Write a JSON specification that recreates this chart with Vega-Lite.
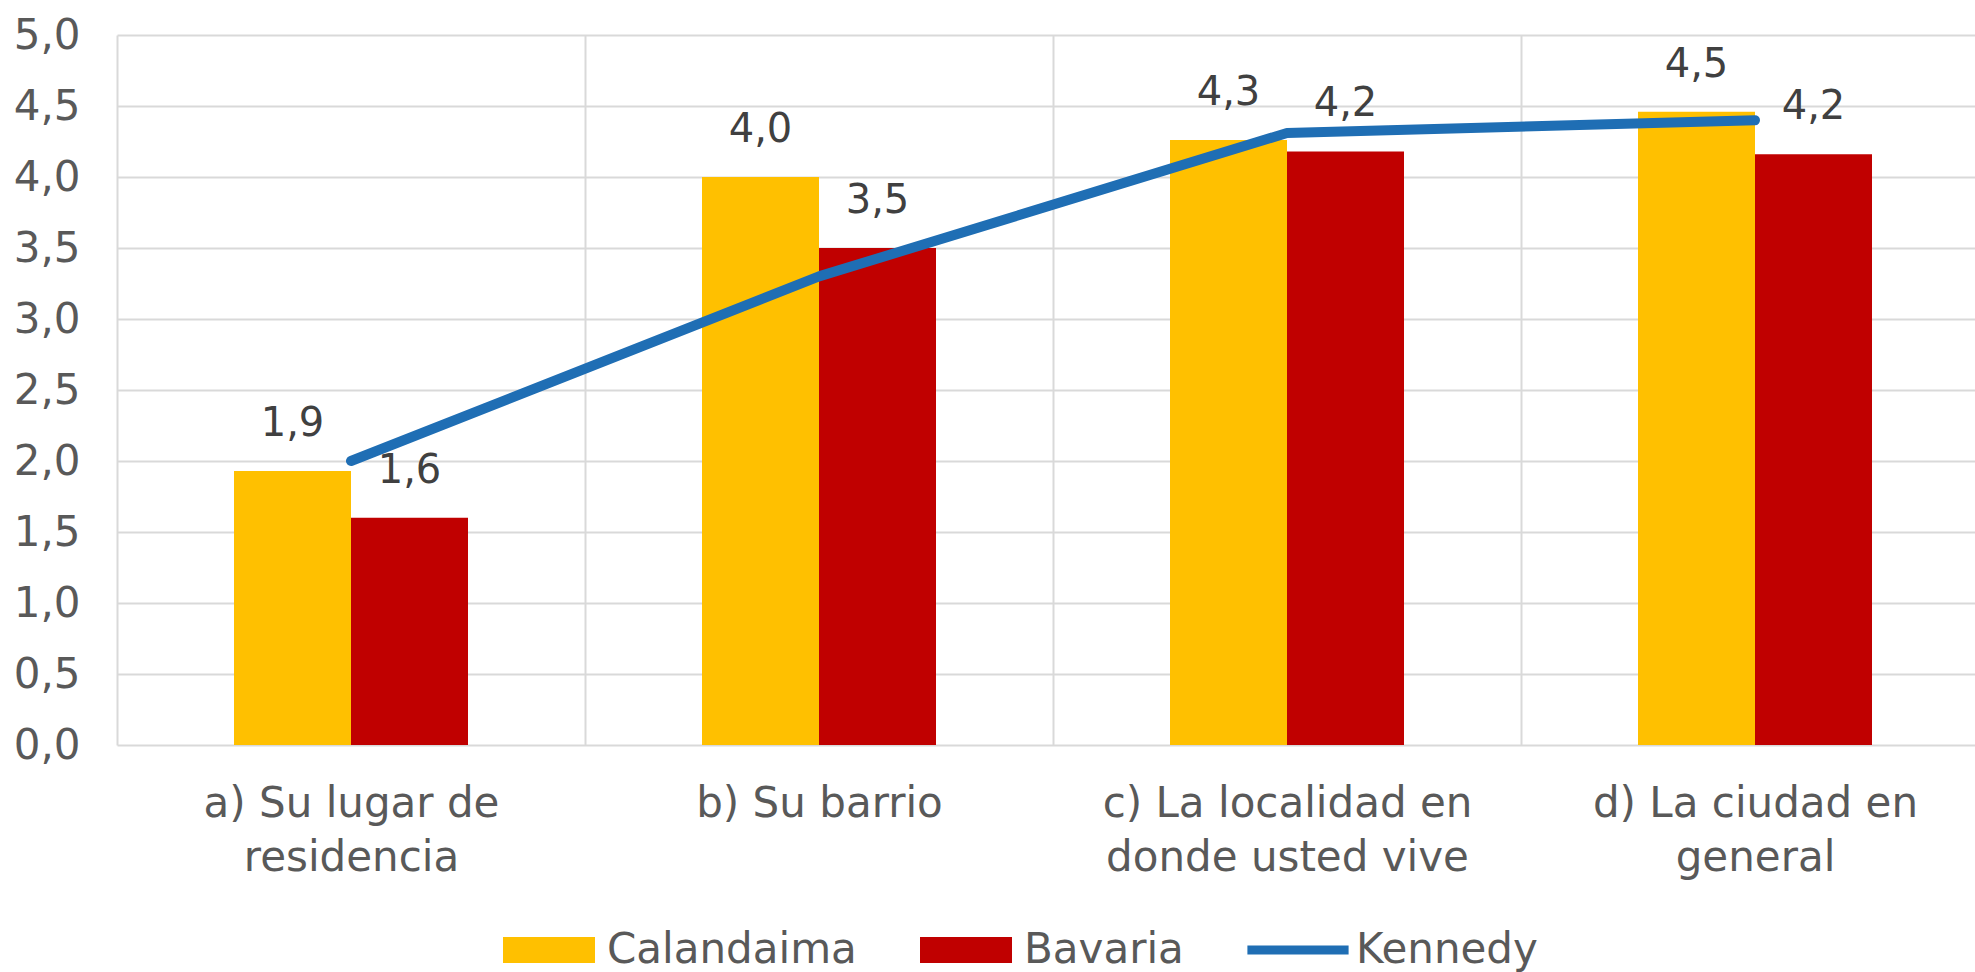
{
  "$schema": "https://vega.github.io/schema/vega-lite/v6.json",
  "width": 1872,
  "height": 710,
  "autosize": "none",
  "padding": {"left": 117, "top": 35, "right": 0, "bottom": 227},
  "background": "white",
  "config": {"view": {"stroke": null}},
  "data": {
    "values": [
      {"cat": "a) Su lugar de residencia", "series": "Calandaima", "value": 1.93, "label": "1,9"},
      {"cat": "a) Su lugar de residencia", "series": "Bavaria", "value": 1.60, "label": "1,6"},
      {"cat": "a) Su lugar de residencia", "series": "Kennedy", "value": 2.0, "label": ""},
      {"cat": "b) Su barrio", "series": "Calandaima", "value": 4.0, "label": "4,0"},
      {"cat": "b) Su barrio", "series": "Bavaria", "value": 3.5, "label": "3,5"},
      {"cat": "b) Su barrio", "series": "Kennedy", "value": 3.3, "label": ""},
      {"cat": "c) La localidad en donde usted vive", "series": "Calandaima", "value": 4.26, "label": "4,3"},
      {"cat": "c) La localidad en donde usted vive", "series": "Bavaria", "value": 4.18, "label": "4,2"},
      {"cat": "c) La localidad en donde usted vive", "series": "Kennedy", "value": 4.31, "label": ""},
      {"cat": "d) La ciudad en general", "series": "Calandaima", "value": 4.46, "label": "4,5"},
      {"cat": "d) La ciudad en general", "series": "Bavaria", "value": 4.16, "label": "4,2"},
      {"cat": "d) La ciudad en general", "series": "Kennedy", "value": 4.40, "label": ""}
    ]
  },
  "encoding": {
    "x": {
      "field": "cat", "type": "nominal", "sort": null,
      "scale": {"paddingInner": 0, "paddingOuter": 0},
      "axis": {
        "title": null, "grid": true, "tickBand": "extent", "ticks": false, "domain": false,
        "gridColor": "#D9D9D9", "gridWidth": 2,
        "labelFont": "DejaVu Sans", "labelFontSize": 42, "labelColor": "#595959",
        "labelPadding": 38, "labelAngle": 0, "labelLineHeight": 54, "labelBaseline": "top", "labelLimit": 600,
        "labelExpr": "datum.value == 'a) Su lugar de residencia' ? ['a) Su lugar de', 'residencia'] : datum.value == 'c) La localidad en donde usted vive' ? ['c) La localidad en', 'donde usted vive'] : datum.value == 'd) La ciudad en general' ? ['d) La ciudad en', 'general'] : datum.value"
      }
    },
    "y": {
      "field": "value", "type": "quantitative",
      "scale": {"domain": [0, 5], "nice": false},
      "axis": {
        "title": null, "values": [0, 0.5, 1, 1.5, 2, 2.5, 3, 3.5, 4, 4.5, 5],
        "labelExpr": "replace(format(datum.value, '.1f'), '.', ',')",
        "grid": true, "gridColor": "#D9D9D9", "gridWidth": 2, "domain": false, "ticks": false,
        "labelPadding": 37, "labelFont": "DejaVu Sans", "labelFontSize": 42, "labelColor": "#595959"
      }
    }
  },
  "layer": [
    {
      "transform": [{"filter": "datum.series !== 'Kennedy'"}],
      "mark": {"type": "bar"},
      "encoding": {
        "xOffset": {"field": "series", "type": "nominal", "sort": ["Calandaima", "Bavaria"], "scale": {"paddingInner": 0, "paddingOuter": 1.11}},
        "color": {
          "field": "series", "type": "nominal",
          "scale": {"domain": ["Calandaima", "Bavaria", "Kennedy"], "range": ["#FFC000", "#C00000", "#1F6EB4"]},
          "legend": {
            "title": null, "orient": "none", "legendX": 386, "legendY": 869, "direction": "horizontal",
            "symbolSize": 8464, "symbolStrokeWidth": 0,
            "labelFont": "DejaVu Sans", "labelFontSize": 42, "labelColor": "#595959",
            "labelOffset": 12, "columnPadding": 63, "labelLimit": 600,
            "encode": {
              "symbols": {
                "update": {
                  "shape": {"signal": "datum.label === 'Kennedy' ? 'M-1.1,-0.1H1.1V0.1H-1.1Z' : 'M-1,-0.28H1V0.28H-1Z'"},
                  "fill": {"signal": "scale('color', datum.value)"},
                  "stroke": {"value": "transparent"}
                }
              }
            }
          }
        }
      }
    },
    {
      "transform": [{"filter": "datum.series !== 'Kennedy'"}],
      "mark": {"type": "text", "font": "DejaVu Sans", "fontSize": 40, "color": "#404040", "dy": -47, "baseline": "middle", "align": "center"},
      "encoding": {
        "xOffset": {"field": "series", "type": "nominal", "sort": ["Calandaima", "Bavaria"], "scale": {"paddingInner": 0, "paddingOuter": 1.11}},
        "text": {"field": "label"}
      }
    },
    {
      "transform": [{"filter": "datum.series === 'Kennedy'"}],
      "mark": {"type": "line", "strokeWidth": 10, "strokeCap": "round", "strokeJoin": "round"},
      "encoding": {
        "color": {"field": "series", "type": "nominal"}
      }
    }
  ]
}
